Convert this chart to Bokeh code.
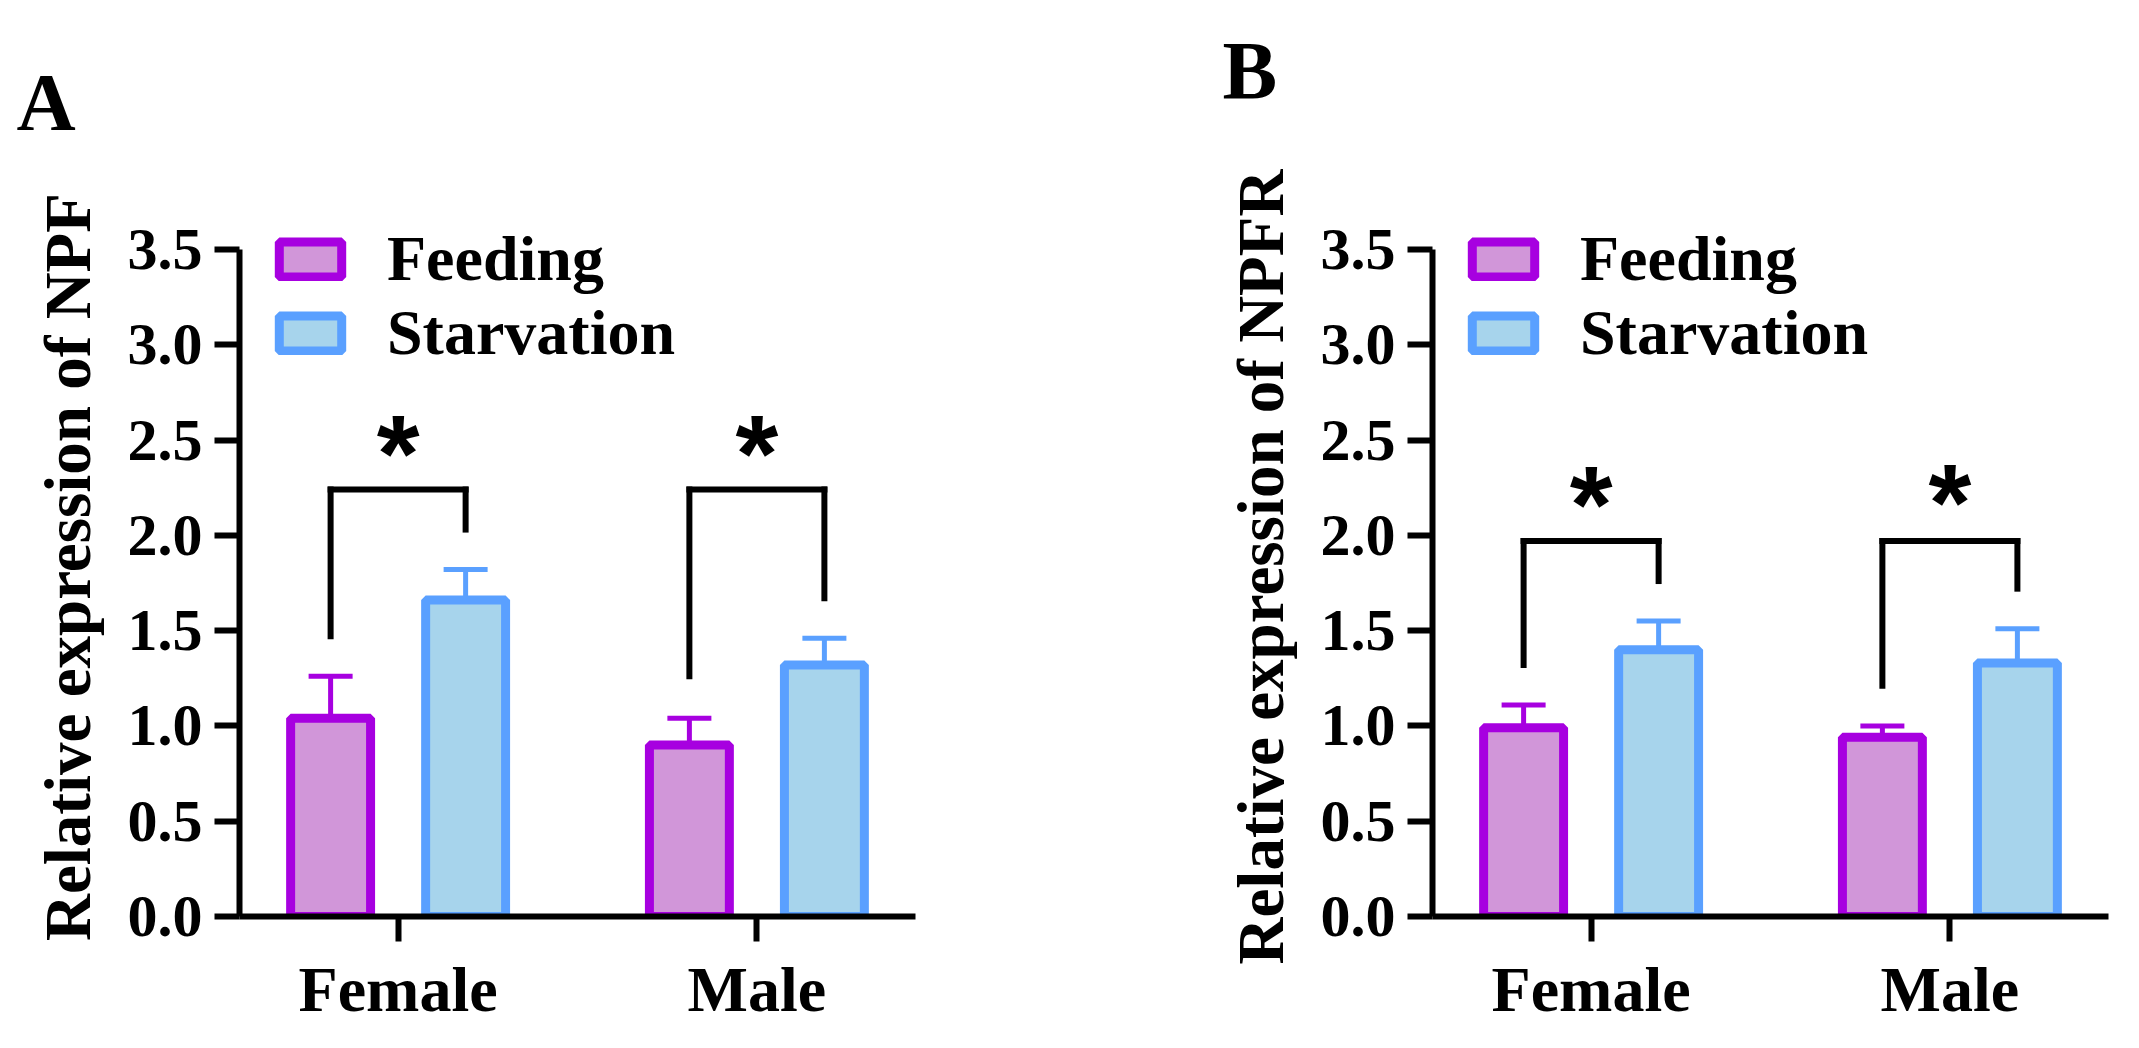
import numpy as np
from bokeh.plotting import figure
from bokeh.models import (ColumnDataSource, FactorRange, Range1d, FixedTicker, Whisker, TeeHead,
                          Legend, LegendItem, PrintfTickFormatter)
from bokeh.transform import dodge
from bokeh.layouts import row, column
from bokeh.core.properties import value
from bokeh.embed import file_html
from bokeh.resources import INLINE

# ---------------- data ----------------
categories = ["Female", "Male"]
series = ["Feeding", "Starvation"]
y_ticks = [0.0, 0.5, 1.0, 1.5, 2.0, 2.5, 3.0, 3.5]
sig_marks = ["*", "*"]
panel_letters = ["A", "B"]
genes = ["NPF", "NPFR"]
y_title = "Relative expression of"

# Panel A: NPF
npf_feeding = [1.04, 0.90]
npf_feeding_err = [0.22, 0.14]
npf_starvation = [1.66, 1.32]
npf_starvation_err = [0.16, 0.14]
npf_bracket_left = [1.47, 1.26]
npf_bracket_right = [2.03, 1.67]
npf_bracket_top = [2.24, 2.24]
npf_star_y = [2.50, 2.50]

# Panel B: NPFR
npfr_feeding = [0.99, 0.94]
npfr_feeding_err = [0.12, 0.06]
npfr_starvation = [1.40, 1.33]
npfr_starvation_err = [0.15, 0.18]
npfr_bracket_left = [1.32, 1.21]
npfr_bracket_right = [1.76, 1.72]
npfr_bracket_top = [1.97, 1.97]
npfr_star_y = [2.23, 2.24]

# ---------------- style / layout ----------------
FEED_FILL = "#D196D9"
FEED_LINE = "#A700E0"
STARV_FILL = "#A7D4EC"
STARV_LINE = "#5AA0FF"
SERIF = "Liberation Serif"
TOTAL_W = 2123
STRIP_H = 130          # strip holding the panel letters
H = 1032 - STRIP_H     # height of the plot row
TOP = 87
BOTTOM = 116
PX_PER_Y = 190.6
Y_END = (H - TOP - BOTTOM) / PX_PER_Y
D = 0.2128
BAR_W = 0.252


def blank(width, height):
    f = figure(width=width, height=height, x_range=Range1d(0, width), y_range=Range1d(0, height),
               x_axis_location=None, y_axis_location=None, output_backend="svg",
               toolbar_location=None, min_border=0)
    f.outline_line_color = None
    f.background_fill_color = "white"
    f.border_fill_color = "white"
    f.grid.visible = False
    return f


def make_panel(gene, feed, feed_err, starv, starv_err, bl, br, bt, star_y, width, left, right):
    src = ColumnDataSource(dict(
        cat=categories,
        feed=feed,
        feed_hi=[v + e for v, e in zip(feed, feed_err)],
        starv=starv,
        starv_hi=[v + e for v, e in zip(starv, starv_err)],
        bl=bl, br=br, bt=bt, star_y=star_y, mark=sig_marks,
    ))
    p = figure(width=width, height=H, title=None,
               x_range=FactorRange(factors=categories, factor_padding=0.131, range_padding=0),
               y_range=Range1d(0, Y_END),
               output_backend="svg", toolbar_location=None,
               min_border_left=left, min_border_right=right,
               min_border_top=TOP, min_border_bottom=BOTTOM)
    p.outline_line_color = None
    p.xgrid.visible = False
    p.ygrid.visible = False
    p.background_fill_color = "white"
    p.border_fill_color = "white"

    xf = dodge("cat", -D, range=p.x_range)
    xs = dodge("cat", D, range=p.x_range)

    r_feed = p.vbar(x=xf, top="feed", bottom=0, width=BAR_W, source=src,
                    fill_color=FEED_FILL, line_color=FEED_LINE, line_width=9)
    r_starv = p.vbar(x=xs, top="starv", bottom=0, width=BAR_W, source=src,
                     fill_color=STARV_FILL, line_color=STARV_LINE, line_width=9)

    p.add_layout(Whisker(source=src, base=xf, upper="feed_hi", lower="feed", dimension="height",
                         line_color=FEED_LINE, line_width=5, lower_head=None,
                         upper_head=TeeHead(size=44, line_color=FEED_LINE, line_width=5)))
    p.add_layout(Whisker(source=src, base=xs, upper="starv_hi", lower="starv", dimension="height",
                         line_color=STARV_LINE, line_width=5, lower_head=None,
                         upper_head=TeeHead(size=44, line_color=STARV_LINE, line_width=5)))

    # significance brackets
    p.segment(x0=xf, x1=xf, y0="bl", y1="bt", source=src, line_color="black", line_width=6,
              line_cap="square")
    p.segment(x0=xf, x1=xs, y0="bt", y1="bt", source=src, line_color="black", line_width=6,
              line_cap="square")
    p.segment(x0=xs, x1=xs, y0="bt", y1="br", source=src, line_color="black", line_width=6,
              line_cap="square")
    p.text(x="cat", y="star_y", text="mark", source=src, text_font=value("Liberation Sans"),
           text_font_style="bold", text_font_size="110px", text_align="center",
           text_baseline="alphabetic", y_offset=12, text_color="black")

    # axes
    ya = p.yaxis[0]
    ya.ticker = FixedTicker(ticks=y_ticks)
    ya.formatter = PrintfTickFormatter(format="%.1f")
    ya.bounds = (0, 3.5)
    ya.axis_line_width = 6
    ya.major_tick_line_width = 6
    ya.major_tick_out = 25
    ya.major_tick_in = 0
    ya.minor_tick_out = 0
    ya.minor_tick_in = 0
    ya.major_label_text_font = SERIF
    ya.major_label_text_font_style = "bold"
    ya.major_label_text_font_size = "60px"
    ya.major_label_text_color = "black"
    ya.major_label_standoff = 12
    ya.axis_label = y_title + " " + gene
    ya.axis_label_text_font = SERIF
    ya.axis_label_text_font_style = "bold"
    ya.axis_label_text_font_size = "65px"
    ya.axis_label_text_color = "black"
    ya.axis_label_standoff = 21

    xa = p.xaxis[0]
    xa.axis_line_width = 6
    xa.major_tick_line_width = 6
    xa.major_tick_out = 25
    xa.major_tick_in = 0
    xa.major_label_text_font = SERIF
    xa.major_label_text_font_style = "bold"
    xa.major_label_text_font_size = "64px"
    xa.major_label_text_color = "black"
    xa.major_label_standoff = 12

    # legend: (x, y) = offset of its bottom-left corner from the frame's bottom-left
    legend = Legend(items=[LegendItem(label=value(series[0]), renderers=[r_feed]),
                           LegendItem(label=value(series[1]), renderers=[r_starv])],
                    location=(32, 546), margin=0, padding=0, spacing=0,
                    glyph_width=78, glyph_height=44, label_standoff=38,
                    label_text_font=SERIF, label_text_font_style="bold",
                    label_text_font_size="64px", label_text_color="black",
                    background_fill_alpha=0, border_line_alpha=0)
    p.add_layout(legend)
    return p


# strip with the panel letters (px from the strip's bottom-left)
strip = blank(TOTAL_W, STRIP_H)
strip.text(x=[16, 1222], y=[28, 60], text=panel_letters, text_font=value(SERIF),
           text_font_style="bold", text_font_size="82px", text_align="left",
           text_baseline="alphabetic", text_color="black")

pA = make_panel(genes[0], npf_feeding, npf_feeding_err, npf_starvation, npf_starvation_err,
                npf_bracket_left, npf_bracket_right, npf_bracket_top, npf_star_y,
                width=1170, left=239, right=255)
pB = make_panel(genes[1], npfr_feeding, npfr_feeding_err, npfr_starvation, npfr_starvation_err,
                npfr_bracket_left, npfr_bracket_right, npfr_bracket_top, npfr_star_y,
                width=953, left=262, right=15)

layout = column(strip, row(pA, pB, spacing=0), spacing=0)
open("out.html", "w").write(file_html(layout, INLINE))
